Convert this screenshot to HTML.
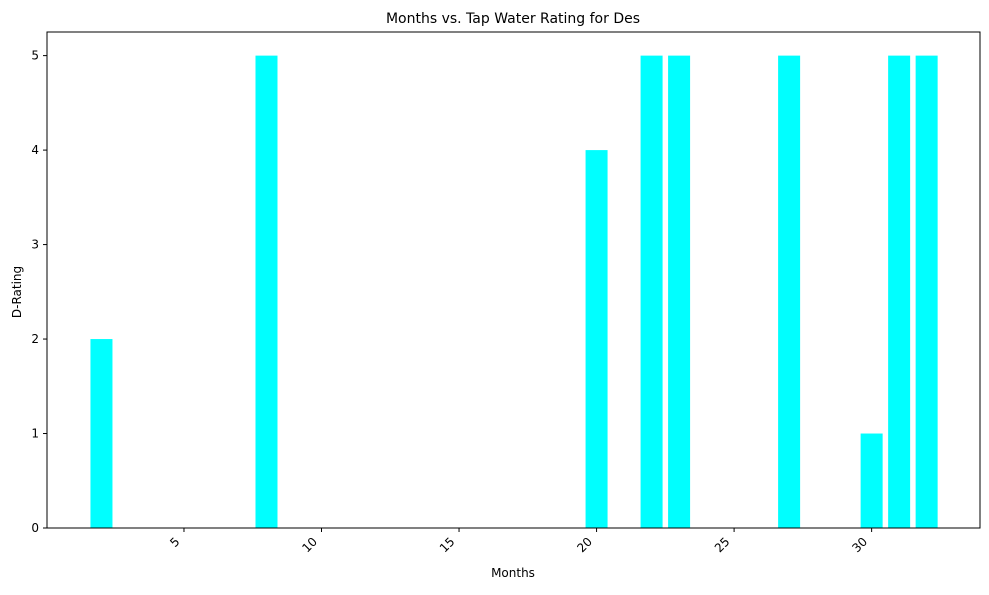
<!DOCTYPE html>
<html><head><meta charset="utf-8"><style>
body{margin:0;background:#fff;font-family:"Liberation Sans","DejaVu Sans",sans-serif;}
svg text{font-family:"DejaVu Sans","Liberation Sans",sans-serif;}
</style></head><body>
<svg id="chart" width="989" height="590">
<text x="513" y="23" font-size="14" text-anchor="middle">Months vs. Tap Water Rating for Des</text>
<g id="bars"></g>
<g id="axes"></g>
<text x="513" y="577" font-size="12" text-anchor="middle">Months</text>
<text transform="translate(21,292) rotate(-90)" font-size="12" text-anchor="middle">D-Rating</text>
</svg>
<script>
const months=[2,8,20,22,23,27,30,31,32];
const ratings=[2,5,4,5,5,5,1,5,5];
const xTicks=[5,10,15,20,25,30];
const yTicks=[0,1,2,3,4,5];
const L=47,R=980,T=32,B=528;
const xmin=0.02,xmax=33.94,ymin=0,ymax=5.25;
const xs=v=>L+(v-xmin)/(xmax-xmin)*(R-L);
const ys=v=>B-(v-ymin)/(ymax-ymin)*(B-T);
const NS="http://www.w3.org/2000/svg";
const bars=document.getElementById('bars'),axes=document.getElementById('axes');
function mk(tag,attrs,parent){const e=document.createElementNS(NS,tag);for(const k in attrs)e.setAttribute(k,attrs[k]);parent.appendChild(e);return e;}
months.forEach((m,i)=>{
  const x0=xs(m-0.4),x1=xs(m+0.4);
  const r=mk('rect',{x:x0,y:ys(ratings[i]),width:x1-x0,height:ys(0)-ys(ratings[i]),fill:'#00ffff'},bars);
  
  
});
const fr=mk('rect',{x:L,y:T,width:R-L,height:B-T,fill:'none',stroke:'#000','stroke-width':1},axes);


xTicks.forEach(t=>{
  const x=xs(t);
  mk('line',{x1:x,x2:x,y1:B,y2:B+4,stroke:'#000'},axes);
  const tx=mk('text',{x:0,y:9,'font-size':12,'text-anchor':'end',transform:`translate(${x-10},${B+8}) rotate(-45)`},axes);
  tx.textContent=t;
  
  
});
yTicks.forEach(t=>{
  const y=ys(t);
  mk('line',{x1:L-4,x2:L,y1:y,y2:y,stroke:'#000'},axes);
  const tx=mk('text',{x:L-8,y:y+4,'font-size':12,'text-anchor':'end'},axes);
  tx.textContent=t;
  
  
});
</script>
</body></html>
